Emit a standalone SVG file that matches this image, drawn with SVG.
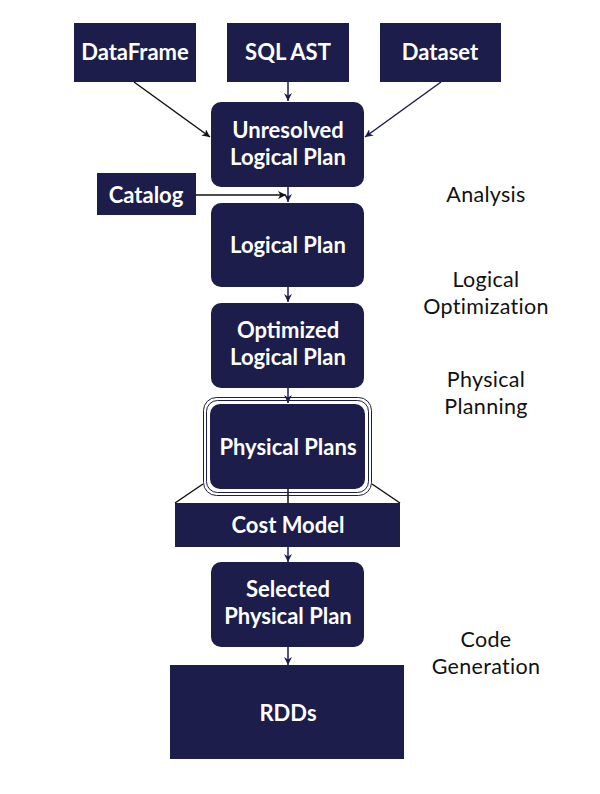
<svg xmlns="http://www.w3.org/2000/svg" width="600" height="794" viewBox="0 0 600 794">
<style>
.box{fill:#1d1d4b}
.t{font-family:Lato,"Open Sans","Liberation Sans",sans-serif;font-weight:bold;font-size:22px;fill:#fff;text-anchor:middle}
.l{font-family:Lato,"Open Sans","Liberation Sans",sans-serif;font-weight:400;font-size:21.5px;fill:#111;text-anchor:middle;letter-spacing:0.3px}
.c{stroke:#1d1d4b;stroke-width:1.5;fill:none}
.k{stroke:#111;stroke-width:1.5;fill:none}
</style>
<defs>
<marker id="a" viewBox="0 0 10 10" refX="10" refY="5" markerWidth="8" markerHeight="8" markerUnits="userSpaceOnUse" orient="auto">
<path d="M0,0 L10,5 L0,10 L3,5 Z" fill="#1d1d4b"/>
</marker>
<marker id="ak" viewBox="0 0 10 10" refX="10" refY="5" markerWidth="8" markerHeight="8" markerUnits="userSpaceOnUse" orient="auto">
<path d="M0,0 L10,5 L0,10 L3,5 Z" fill="#111"/>
</marker>
</defs>
<rect width="600" height="794" fill="#fff"/>
<g id="connectors">
<line class="k" x1="134" y1="82" x2="210" y2="137" marker-end="url(#ak)"/>
<line class="c" x1="288" y1="82" x2="288" y2="101" marker-end="url(#a)"/>
<line class="c" x1="441" y1="82" x2="365" y2="137" marker-end="url(#a)"/>
<line class="k" x1="196" y1="195" x2="286" y2="195" marker-end="url(#ak)"/>
<line class="c" x1="288" y1="187" x2="288" y2="202" marker-end="url(#a)"/>
<line class="c" x1="288" y1="287" x2="288" y2="302" marker-end="url(#a)"/>
<line class="c" x1="288" y1="388" x2="288" y2="403" marker-end="url(#a)"/>
<line class="k" x1="288" y1="489" x2="288" y2="503"/>
<line class="k" x1="203" y1="484" x2="175" y2="503"/>
<line class="k" x1="372" y1="484" x2="400" y2="503"/>
<line class="c" x1="288" y1="547" x2="288" y2="562" marker-end="url(#a)"/>
<line class="c" x1="288" y1="647" x2="288" y2="665" marker-end="url(#a)"/>
</g>
<g id="dataframe"><rect class="box" x="74" y="23" width="122" height="59"/><text class="t" x="135" y="60">DataFrame</text></g>
<g id="sqlast"><rect class="box" x="227" y="23" width="122" height="59"/><text class="t" x="288" y="60">SQL AST</text></g>
<g id="dataset"><rect class="box" x="380" y="23" width="121" height="59"/><text class="t" x="440" y="60">Dataset</text></g>
<g id="unresolved"><rect class="box" x="211" y="102" width="153" height="85" rx="10"/><text class="t" x="288" y="138">Unresolved</text><text class="t" x="288" y="165">Logical Plan</text></g>
<g id="catalog"><rect class="box" x="97" y="173" width="99" height="42"/><text class="t" x="146" y="203">Catalog</text></g>
<g id="logical"><rect class="box" x="211" y="203" width="153" height="84" rx="10"/><text class="t" x="288" y="253">Logical Plan</text></g>
<g id="optimized"><rect class="box" x="211" y="303" width="153" height="85" rx="10"/><text class="t" x="288" y="338">Optimized</text><text class="t" x="288" y="365">Logical Plan</text></g>
<g id="physical">
<rect x="203.5" y="397.5" width="168" height="98" rx="13" fill="none" stroke="#1d1d4b" stroke-width="1"/>
<rect x="206.5" y="400.5" width="162" height="92" rx="11" fill="none" stroke="#1d1d4b" stroke-width="1"/>
<rect class="box" x="210" y="404" width="155" height="85" rx="10"/>
<text class="t" x="288" y="455">Physical Plans</text></g>
<g id="costmodel"><rect class="box" x="175" y="503" width="225" height="44"/><text class="t" x="288" y="533">Cost Model</text></g>
<g id="selected"><rect class="box" x="211" y="562" width="153" height="85" rx="10"/><text class="t" x="288" y="597">Selected</text><text class="t" x="288" y="624">Physical Plan</text></g>
<g id="rdds"><rect class="box" x="170" y="665" width="234" height="94"/><text class="t" x="288" y="721">RDDs</text></g>
<g id="labels">
<text class="l" x="486" y="202">Analysis</text>
<text class="l" x="486" y="287">Logical</text>
<text class="l" x="486" y="314">Optimization</text>
<text class="l" x="486" y="387">Physical</text>
<text class="l" x="486" y="414">Planning</text>
<text class="l" x="486" y="647">Code</text>
<text class="l" x="486" y="674">Generation</text>
</g>
</svg>
